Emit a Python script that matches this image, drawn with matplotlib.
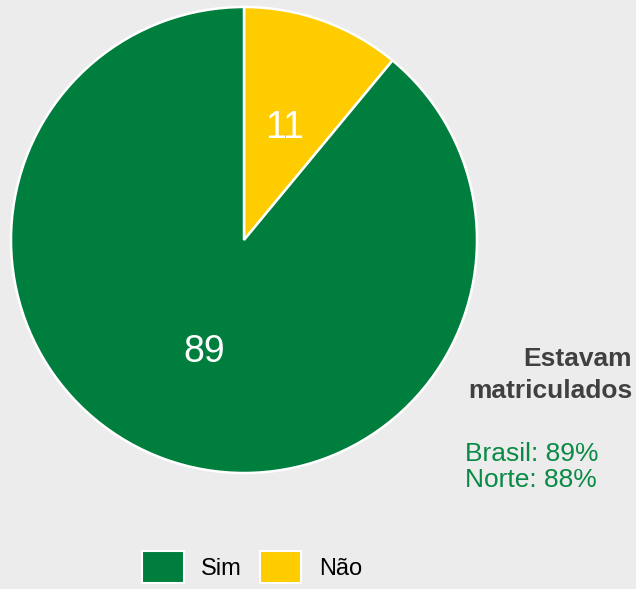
import matplotlib
matplotlib.use("Agg")
import matplotlib.pyplot as plt
from matplotlib.patches import Patch

plt.rcParams['font.family'] = ['Liberation Sans', 'DejaVu Sans']

# dados
categorias = ["Não", "Sim"]
valores = [11, 89]
cores = ["#FFCC00", "#007E3D"]
legenda_ordem = ["Sim", "Não"]
titulo = "Estavam\nmatriculados"
comparacao = ["Brasil: 89%", "Norte: 88%"]

W, H = 636, 589
fig = plt.figure(figsize=(W / 100, H / 100), dpi=100)
fig.patch.set_facecolor("#ececec")
ax = fig.add_axes([0, 0, 1, 1])
ax.set_xlim(0, W)
ax.set_ylim(0, H)
ax.axis("off")

wedges, textos, autotextos = ax.pie(
    valores, colors=cores, startangle=90, counterclock=False,
    center=(244, H - 240), radius=233,
    autopct=lambda p: f"{p:.0f}", pctdistance=0.51,
    wedgeprops=dict(edgecolor="white", linewidth=1.8),
    textprops=dict(color="white", fontsize=27),
)
ax.set_xlim(0, W)
ax.set_ylim(0, H)
ax.set_aspect("equal")

ax.text(632, H - 375, titulo, ha="right", va="center", fontsize=19,
        fontweight="bold", color="#404040", linespacing=1.38)
ax.text(465, H - 467, "\n".join(comparacao), ha="left", va="center",
        fontsize=19, color="#0a8a45", linespacing=1.15)

handles = [Patch(facecolor=cores[categorias.index(c)], edgecolor="white", linewidth=1.5)
           for c in legenda_ordem]
leg = fig.legend(handles, legenda_ordem, loc="center", bbox_to_anchor=(252 / W, 1 - 567 / H),
                 ncol=2, frameon=False, fontsize=17, handlelength=1.75, handleheight=1.75,
                 handletextpad=0.75, columnspacing=0.75)

fig.savefig("out.png", dpi=100, facecolor=fig.get_facecolor())
